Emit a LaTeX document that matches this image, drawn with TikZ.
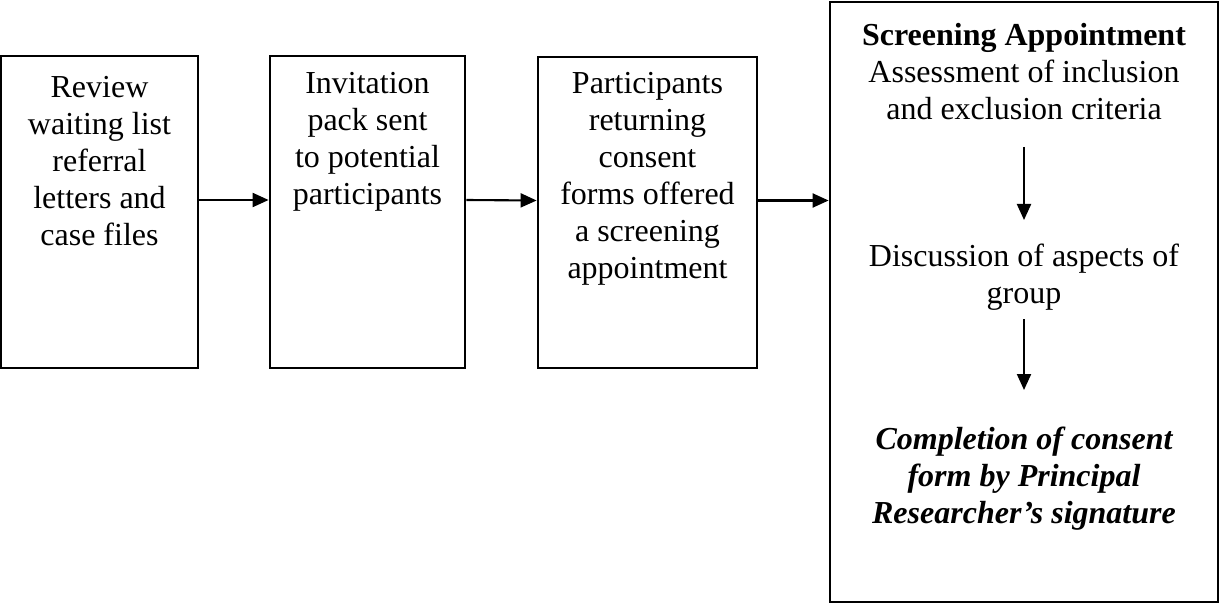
\documentclass[tikz,border=0pt]{standalone}
\usepackage{fontspec}
\setmainfont{Liberation Serif}
\usetikzlibrary{arrows.meta}
\begin{document}
\begin{tikzpicture}[x=1pt,y=-1pt,
  box/.style={draw, line width=2.8pt, inner sep=0pt},
  txt/.style={align=center, font=\fontsize{32}{37}\selectfont, inner sep=0pt},
  flow/.style={line width=2.1pt, -{Triangle[length=16pt,width=14pt]}}]
\useasboundingbox (0,0) rectangle (1220,604);
\fill[white] (0,0) rectangle (1220,604);

% the four stage boxes
\node[box, minimum width=197pt, minimum height=312pt] (b1) at (99.5,212) {};
\node[box, minimum width=195pt, minimum height=312pt] (b2) at (367.5,212) {};
\node[box, minimum width=219pt, minimum height=311pt] (b3) at (647.5,212.5) {};
\node[box, minimum width=388pt, minimum height=600pt] (b4) at (1024,302) {};

% stage texts
\node[txt] (t1) at (99.5,161) {Review\\waiting list\\referral\\letters and\\case files};
\node[txt] (t2) at (367.5,142) {Invitation\\pack sent\\to potential\\participants};
\node[txt] (t3) at (647.5,179) {Participants\\returning\\consent\\forms offered\\a screening\\appointment};

% screening appointment contents
\node[txt] (t4a) at (1024,71.5) {\textbf{Screening Appointment}\\Assessment of inclusion\\and exclusion criteria};
\node[txt] (t4b) at (1024,277) {Discussion of aspects of\\group};
\node[txt, font=\fontsize{32}{37}\selectfont\bfseries\itshape] (t4c) at (1024,478.5)
  {Completion of consent\\form by Principal\\Researcher’s signature};

% flow between stages
\draw[flow] ([yshift=12pt]b1.east) -- ([yshift=12pt]b2.west);
\draw[flow] ([yshift=12pt]b2.east) -- ([yshift=12pt]b3.west);
\draw[flow] ([yshift=12pt]b3.east) -- ([yshift=12pt]b3.east -| b4.west);

% flow inside the screening appointment
\coordinate (a1s) at (1024,147);
\coordinate (a1e) at (1024,220);
\coordinate (a2s) at (1024,319);
\coordinate (a2e) at (1024,390);
\draw[flow] (a1s) -- (a1e);
\draw[flow] (a2s) -- (a2e);
\end{tikzpicture}
\end{document}
